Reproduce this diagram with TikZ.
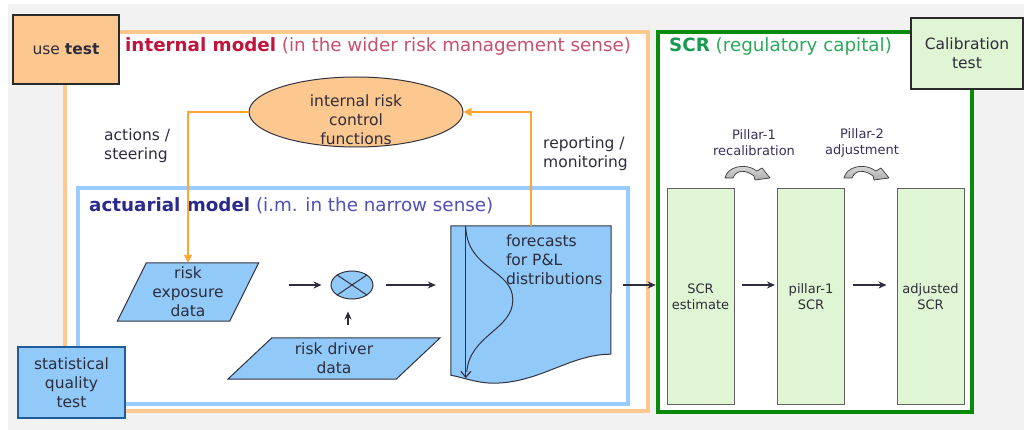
\documentclass[tikz,border=0pt]{standalone}
\usepackage{fontspec}
\setmainfont{DejaVu Sans}
\usetikzlibrary{shapes.geometric,arrows.meta,calc}
\pgfdeclarelayer{back}
\pgfsetlayers{back,main}

\definecolor{bggray}{HTML}{F2F2F2}
\definecolor{txt}{HTML}{2D2D3C}
\definecolor{darkline}{HTML}{333340}
\definecolor{boxline}{HTML}{2A2A2A}
\definecolor{orframe}{HTML}{FFC891}
\definecolor{orfill}{HTML}{FCC890}
\definecolor{orarrow}{HTML}{FFA533}
\definecolor{blframe}{HTML}{99CCFF}
\definecolor{bluefill}{HTML}{91C9F9}
\definecolor{statline}{HTML}{1F5C99}
\definecolor{grframe}{HTML}{0A8A0A}
\definecolor{greenfill}{HTML}{DFF5D3}
\definecolor{imred}{HTML}{C0143C}
\definecolor{imredlight}{HTML}{C8506E}
\definecolor{amblue}{HTML}{2A2A8C}
\definecolor{ambluelight}{HTML}{5050B8}
\definecolor{scrgreen}{HTML}{1A9A50}
\definecolor{scrgreenlight}{HTML}{2AAA5A}
\definecolor{pillartxt}{HTML}{3A2F55}

\newcommand\bendarrow[1]{%
  \begin{scope}[shift={#1}]
    \draw[top color=gray!20, bottom color=gray!65, draw=gray!45!black, line width=0.7pt, line join=round]
      (0,13) .. controls (2,2) and (20,-3) .. (32,6) -- (37,3) -- (45,13) -- (30,15) -- (29,11)
      .. controls (20,4) and (11,5) .. (8,13) -- cycle;
  \end{scope}}

\begin{document}
\begin{tikzpicture}[x=1pt,y=-1pt,
  body/.style={font=\fontsize{15.5}{19}\selectfont, text=txt, inner sep=0pt, align=center},
  small/.style={font=\fontsize{13}{16}\selectfont, text=txt, inner sep=0pt, align=center},
  ttl/.style={font=\fontsize{18.3}{22}\selectfont, inner sep=0pt, anchor=base west},
  frame/.style={line width=4.5pt, fill=white, inner sep=0pt},
  testbox/.style={draw=boxline, line width=1.6pt, inner sep=0pt},
  flow/.style={draw=txt, line width=1.3pt, -{Stealth[length=8pt,width=7pt]}},
  feedback/.style={draw=orarrow, line width=1.6pt, -{Triangle[length=8pt,width=8pt]}},
  datashape/.style={fill=bluefill, draw=darkline, line width=1pt},
  scrbox/.style={fill=greenfill, draw=gray!75!black, line width=1pt,
    minimum width=67, minimum height=215, inner sep=0pt}
]
\useasboundingbox (0,0) rectangle (1024,430);

% page background and the frames of the three areas
\begin{pgfonlayer}{back}
  \fill[white] (0,0) rectangle (1024,430);
  \fill[bggray] (8,4) rectangle (1024,430);
  \node[frame, draw=orframe, minimum width=583, minimum height=379] (imodel) at (356.5,221.5) {};
  \node[frame, draw=blframe, minimum width=550, minimum height=216] (amodel) at (353,296) {};
  \node[frame, draw=grframe, minimum width=314, minimum height=380] (scrframe) at (815,222) {};
\end{pgfonlayer}

% titles
\node[ttl] at (125,52) {\textcolor{imred}{\textbf{internal model}} \textcolor{imredlight}{(in the wider risk management sense)}};
\node[ttl] at (89,212) {\textcolor{amblue}{\textbf{actuarial model}} \textcolor{ambluelight}{(i.m. in the narrow sense)}};
\node[ttl] at (669,52) {\textcolor{scrgreen}{\textbf{SCR}} \textcolor{scrgreenlight}{(regulatory capital)}};

% risk control functions
\node[ellipse, draw=darkline, fill=orfill, line width=1pt, minimum width=214, minimum height=70, inner sep=0pt] (ctl) at (356,112) {};
\node[body] at ($(ctl.center)+(0,8)$) {internal risk\\control\\functions};

\node[body, align=left, anchor=west] (act) at (104,146) {actions /\\steering};
\node[body, align=left, anchor=west] (rep) at (543,154) {reporting /\\monitoring};

% input data
\node[body, minimum width=141, minimum height=58] (rexp) at (188,292) {risk\\exposure\\data};
\node[body, minimum width=212, minimum height=41] (rdrv) at (334,358.5) {risk driver\\data};
\node[minimum width=160, minimum height=149, inner sep=0pt] (fc) at (531,300.5) {};
\begin{pgfonlayer}{back}
  \draw[datashape] ($(rexp.north west)+(29,0)$) -- (rexp.north east)
    -- ($(rexp.south east)+(-29,0)$) -- (rexp.south west) -- cycle;
  \draw[datashape] ($(rdrv.north west)+(44,0)$) -- (rdrv.north east)
    -- ($(rdrv.south east)+(-44,0)$) -- (rdrv.south west) -- cycle;
  \draw[datashape] (fc.north west) -- (fc.north east) -- ($(fc.south west)+(160,-21)$)
    .. controls ($(fc.south west)+(119,-21)$) and ($(fc.south west)+(89,8)$) .. ($(fc.south west)+(42,8)$)
    .. controls ($(fc.south west)+(27,8)$) and ($(fc.south west)+(11,2)$) .. (fc.south west) -- cycle;
\end{pgfonlayer}

% P&L distribution sketch
\draw[darkline, line width=1.2pt, -{Straight Barb[length=6pt,width=10pt]}]
  ($(fc.north west)+(15,0)$) -- ($(fc.south west)+(15,3)$);
\draw[darkline, line width=1pt]
  ($(fc.north west)+(15,2)$) .. controls ($(fc.north west)+(17,44)$) and ($(fc.north west)+(62,44)$)
  .. ($(fc.north west)+(62,74)$) .. controls ($(fc.north west)+(62,104)$) and ($(fc.north west)+(19,109)$)
  .. ($(fc.north west)+(16,146)$);
\node[body, align=left, anchor=west] at ($(fc.north west)+(55,34)$) {forecasts\\for P\&L\\distributions};

% aggregation
\node[ellipse, draw=darkline, fill=bluefill, line width=1pt, minimum width=42, minimum height=28, inner sep=0pt] (mult) at (352,285) {};
\draw[darkline, line width=1pt] (mult.north west) -- (mult.south east) (mult.north east) -- (mult.south west);

% feedback loop
\draw[feedback] (ctl.west) -| (rexp.north);
\draw[feedback] (fc.north) |- (ctl.east);

% main flow
\draw[flow] ($(rexp.east |- mult.center)+(30,0)$) -- ($(mult.west)+(-9,0)$);
\draw[flow] ($(rdrv.north -| mult.south)+(-4,-13)$) -- ($(mult.south)+(-4,12)$);
\draw[flow] ($(mult.east)+(12,0)$) -- ($(fc.west |- mult.east)+(-15,0)$);
\draw[flow] ($(fc.east |- mult.east)+(12,0)$) -- (scrframe.west |- mult.east);

% SCR steps
\node[scrbox, small] (scr1) at (700.5,296.5) {SCR\\estimate};
\node[scrbox, small] (scr2) at (811,296.5) {pillar-1\\SCR};
\node[scrbox, small] (scr3) at (930.5,296.5) {adjusted\\SCR};
\draw[flow] ($(scr1.east |- mult.east)+(7,0)$) -- ($(scr2.west |- mult.east)+(-2,0)$);
\draw[flow] ($(scr2.east |- mult.east)+(8,0)$) -- ($(scr3.west |- mult.east)+(-10,0)$);

\node[small, text=pillartxt] (p1) at (754,143) {Pillar-1\\recalibration};
\node[small, text=pillartxt] (p2) at (862,143) {Pillar-2\\adjustment};
\bendarrow{(725,165)}
\bendarrow{(844,165)}

% tests
\node[testbox, fill=orfill, minimum width=106, minimum height=69, body] (usetest) at (66,49.5) {use \textbf{test}};
\node[testbox, fill=greenfill, minimum width=112, minimum height=71, body] (calib) at (967,53.5) {Calibration\\test};
\node[testbox, draw=statline, fill=bluefill, minimum width=107, minimum height=71, body] (stat) at (71.5,382.5) {statistical\\quality\\test};
\end{tikzpicture}
\end{document}
